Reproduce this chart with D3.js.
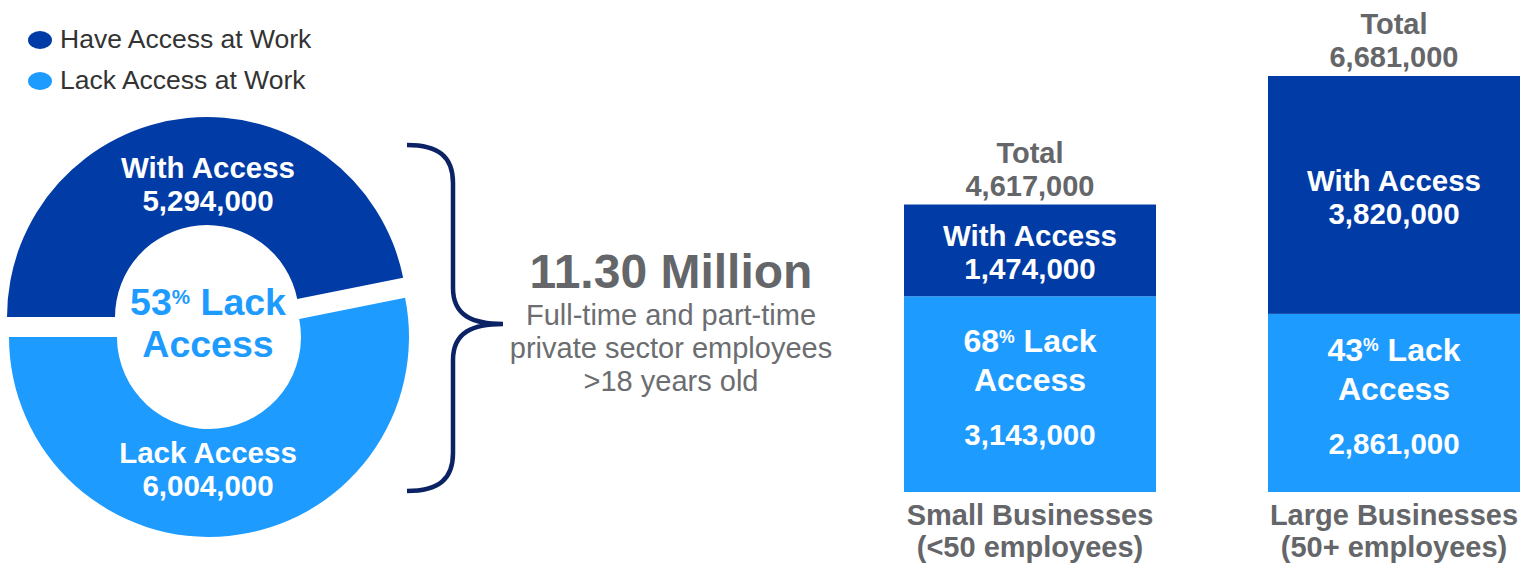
<!DOCTYPE html>
<html>
<head>
<meta charset="utf-8">
<script src="https://cdn.jsdelivr.net/npm/d3@7/dist/d3.min.js"></script>
<style>
  body { margin: 0; background: #fff; }
  text { font-family: "Liberation Sans", Arial, sans-serif; }
</style>
</head>
<body>
<div id="chart"></div>
<script>
// data
var legendLabels = ["Have Access at Work", "Lack Access at Work"];
var donutLabels = ["With Access", "Lack Access"];
var donutValues = [5294000, 6004000];
var donutPct = "53";
var totalLabel = "11.30 Million";
var totalSub = ["Full-time and part-time", "private sector employees", ">18 years old"];
var barCats = ["Small Businesses", "Large Businesses"];
var barCatSub = ["(<50 employees)", "(50+ employees)"];
var withAccess = [1474000, 3820000];
var lackAccess = [3143000, 2861000];
var barTotals = [4617000, 6681000];
var lackPct = ["68", "43"];

var W = 1524, H = 565;
var dark = "#003BA6", light = "#1E9BFF", gray = "#646669";
var fmt = d3.format(",");

var svg = d3.select("#chart").append("svg")
  .attr("width", W).attr("height", H);

// legend
var leg = svg.append("g");
legendLabels.forEach(function (t, i) {
  leg.append("ellipse").attr("cx", 40).attr("cy", 40 + i * 41)
    .attr("rx", 12).attr("ry", 9).attr("fill", i == 0 ? dark : light);
  leg.append("text").attr("x", 60).attr("y", 48 + i * 41)
    .attr("font-size", "26.5px").attr("fill", "#333").text(t);
});

// donut
var cx = 208, cy = 327, rOut = 200, rIn = 92, explode = 10;
var pie = d3.pie().sort(null).startAngle(-Math.PI / 2).endAngle(1.5 * Math.PI);
var arc = d3.arc().innerRadius(rIn).outerRadius(rOut);
var donut = svg.append("g").attr("transform", "translate(" + cx + "," + cy + ")");
donut.selectAll("path")
  .data(pie(donutValues))
  .enter().append("path")
  .attr("d", arc)
  .attr("fill", function (d, i) { return i == 0 ? dark : light; })
  .attr("transform", function (d) {
    var m = (d.startAngle + d.endAngle) / 2;
    return "translate(" + (Math.sin(m) * explode) + "," + (-Math.cos(m) * explode) + ")";
  });

var labelY = [[-149, -116], [136, 169]];
donutValues.forEach(function (v, i) {
  var t = donut.append("text").attr("text-anchor", "middle").attr("fill", "#fff")
    .attr("font-weight", "bold").attr("font-size", "29.5px");
  t.append("tspan").attr("x", 0).attr("y", labelY[i][0]).text(donutLabels[i]);
  t.append("tspan").attr("x", 0).attr("y", labelY[i][1]).text(fmt(v));
});

function pctText(g, x, y, pct, size, color, gap) {
  var t = g.append("text").attr("text-anchor", "middle").attr("fill", color)
    .attr("font-weight", "bold").attr("font-size", size + "px");
  var l1 = t.append("tspan").attr("x", x).attr("y", y);
  l1.append("tspan").text(pct);
  l1.append("tspan").attr("font-size", (size * 0.55) + "px").attr("dy", -size * 0.3).text("%");
  l1.append("tspan").attr("dy", size * 0.3).text(" Lack");
  t.append("tspan").attr("x", x).attr("y", y + gap).text("Access");
}
pctText(donut, 0, -12, donutPct, 37.5, light, 42);

// brace
var bx0 = 407, bxm = 453, bxt = 503, byTop = 145, byBot = 491, byTip = 324;
var p = d3.path();
p.moveTo(bx0, byTop);
p.bezierCurveTo(bx0 + 32, byTop, bxm, byTop + 12, bxm, byTop + 38);
p.lineTo(bxm, byTip - 36);
p.bezierCurveTo(bxm, byTip - 8, bxm + 20, byTip, bxt, byTip);
p.bezierCurveTo(bxm + 20, byTip, bxm, byTip + 8, bxm, byTip + 36);
p.lineTo(bxm, byBot - 38);
p.bezierCurveTo(bxm, byBot - 12, bx0 + 32, byBot, bx0, byBot);
svg.append("path").attr("d", p.toString()).attr("fill", "none")
  .attr("stroke", "#0B2265").attr("stroke-width", 4.5);

// middle total
var mid = svg.append("g");
mid.append("text").attr("x", 671).attr("y", 288).attr("text-anchor", "middle")
  .attr("font-weight", "bold").attr("font-size", "48px").attr("fill", gray).text(totalLabel);
var sub = mid.append("text").attr("text-anchor", "middle").attr("font-size", "29px").attr("fill", "#6b6d70");
totalSub.forEach(function (s, i) {
  sub.append("tspan").attr("x", 671).attr("y", 325 + i * 33).text(s);
});

// bars
var x = d3.scaleBand().domain(barCats).range([904, 1520]).paddingInner(0.3077).paddingOuter(0);
var y = d3.scaleLinear().domain([0, d3.max(barTotals)]).range([492, 76]);
var bars = svg.append("g");

bars.selectAll(".lack").data(barCats).enter().append("rect")
  .attr("class", "lack")
  .attr("x", function (d) { return x(d); })
  .attr("width", x.bandwidth())
  .attr("y", function (d, i) { return y(lackAccess[i]); })
  .attr("height", function (d, i) { return y(0) - y(lackAccess[i]); })
  .attr("fill", light);

bars.selectAll(".with").data(barCats).enter().append("rect")
  .attr("class", "with")
  .attr("x", function (d) { return x(d); })
  .attr("width", x.bandwidth())
  .attr("y", function (d, i) { return y(lackAccess[i] + withAccess[i]); })
  .attr("height", function (d, i) { return y(lackAccess[i]) - y(lackAccess[i] + withAccess[i]); })
  .attr("fill", dark);

barCats.forEach(function (c, i) {
  var bx = x(c) + x.bandwidth() / 2;
  var top = y(barTotals[i]);
  var split = y(lackAccess[i]);
  var darkMid = (top + split) / 2;
  var lightMid = (split + y(0)) / 2;

  var tt = bars.append("text").attr("text-anchor", "middle").attr("fill", gray)
    .attr("font-weight", "bold").attr("font-size", "29px");
  tt.append("tspan").attr("x", bx).attr("y", top - 42).text("Total");
  tt.append("tspan").attr("x", bx).attr("y", top - 9).text(fmt(barTotals[i]));

  var wt = bars.append("text").attr("text-anchor", "middle").attr("fill", "#fff")
    .attr("font-weight", "bold").attr("font-size", "29.5px");
  wt.append("tspan").attr("x", bx).attr("y", darkMid - 4).text("With Access");
  wt.append("tspan").attr("x", bx).attr("y", darkMid + 29).text(fmt(withAccess[i]));

  pctText(bars, bx, lightMid - 42, lackPct[i], 32, "#fff", 39);
  bars.append("text").attr("x", bx).attr("y", lightMid + 51).attr("text-anchor", "middle")
    .attr("fill", "#fff").attr("font-weight", "bold").attr("font-size", "29.5px")
    .text(fmt(lackAccess[i]));

  var ct = bars.append("text").attr("text-anchor", "middle").attr("fill", gray)
    .attr("font-weight", "bold").attr("font-size", "29px");
  ct.append("tspan").attr("x", bx).attr("y", 525).text(c);
  ct.append("tspan").attr("x", bx).attr("y", 557).text(barCatSub[i]);
});
</script>
</body>
</html>
